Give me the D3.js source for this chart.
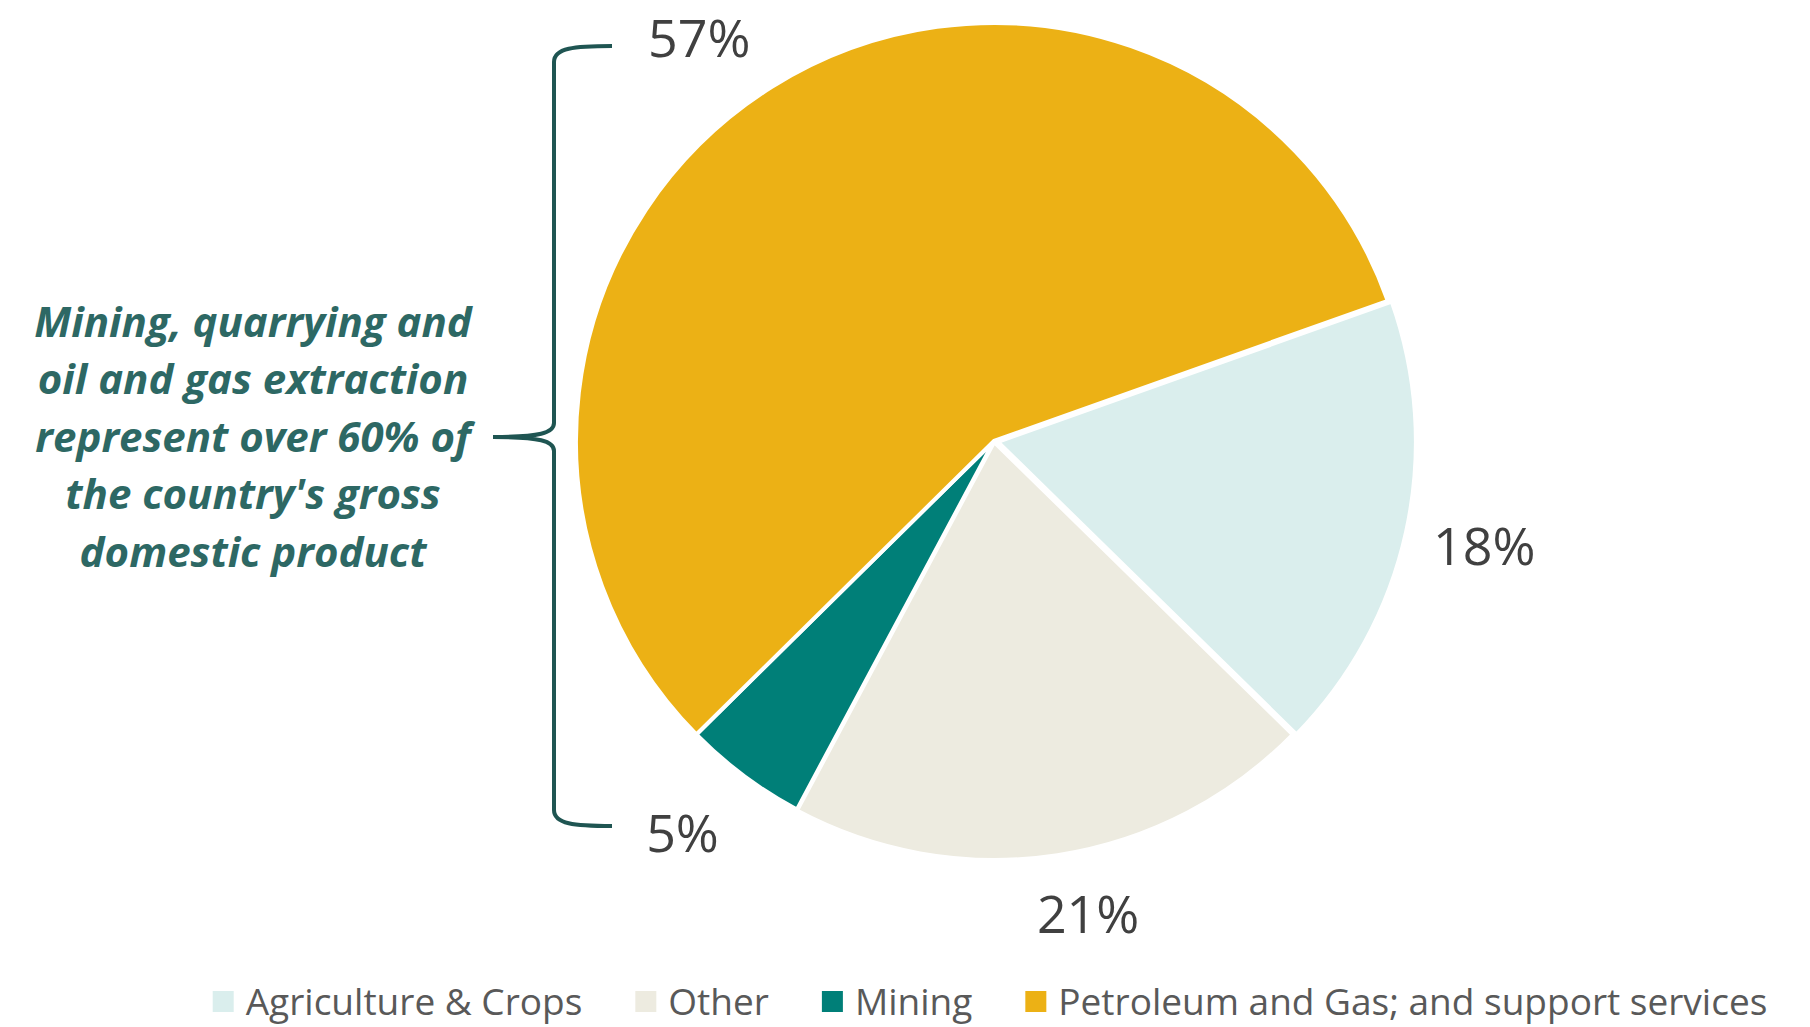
<!DOCTYPE html>
<html>
<head>
<meta charset="utf-8">
<script src="https://cdn.jsdelivr.net/npm/d3@7"></script>
<style>
  body { margin: 0; background: #fff; }
  text { font-family: "Open Sans", sans-serif; }
</style>
</head>
<body>
<div id="container"></div>
<script>
let categories = ['Agriculture & Crops', 'Other', 'Mining', 'Petroleum and Gas; and support services'];
let values = [17.8, 20.5, 4.8, 57.0];
let labels = ['18%', '21%', '5%', '57%'];
let noteLines = ['Mining, quarrying and', 'oil and gas extraction', 'represent over 60% of', "the country's gross", 'domestic product'];

let colors = ['#daeeed', '#edebe0', '#007f78', '#ecb115'];
let width = 1810;
let height = 1027;
let cx = 994, cy = 441;
let radius = 418;
let labelRadius = 502;
let startDeg = 70.4;

let svg = d3.select('#container').append('svg')
    .attr('width', width).attr('height', height);

let color = d3.scaleOrdinal().domain(categories).range(colors);

let pie = d3.pie().sort(null).value(d => d)
    .startAngle(startDeg * Math.PI / 180)
    .endAngle(startDeg * Math.PI / 180 + 2 * Math.PI);
let arcs = pie(values);

let arc = d3.arc().innerRadius(0).outerRadius(radius);
let labelArc = d3.arc().innerRadius(labelRadius).outerRadius(labelRadius);

let chart = svg.append('g').attr('transform', 'translate(' + cx + ',' + cy + ')');

// small offset for the agriculture slice, like the original
let explode = [4, 1, 0, 0];
// labels that were dragged by hand in the original
let labelNudge = [[0, -4], [18, -25], [-11, -12], [-28, 21]];

chart.selectAll('.slice')
    .data(arcs).enter()
    .append('path').attr('class', 'slice')
    .attr('d', arc)
    .attr('transform', (d, i) => {
        let a = (d.startAngle + d.endAngle) / 2;
        return 'translate(' + (Math.sin(a) * explode[i]) + ',' + (-Math.cos(a) * explode[i]) + ')';
    })
    .attr('fill', (d, i) => color(categories[i]))
    .attr('stroke', '#fff')
    .attr('stroke-width', 4)
    .attr('stroke-linejoin', 'round');

chart.selectAll('.pct')
    .data(arcs).enter()
    .append('text').attr('class', 'pct')
    .attr('x', (d, i) => labelArc.centroid(d)[0] + labelNudge[i][0])
    .attr('y', (d, i) => labelArc.centroid(d)[1] + labelNudge[i][1])
    .attr('text-anchor', 'middle')
    .attr('dominant-baseline', 'central')
    .attr('font-size', 52)
    .attr('fill', '#404040')
    .text((d, i) => labels[i]);

// curly brace
let bx = 554, braceTop = 46, braceBottom = 826, tipX = 493, tipY = 437, armX = 612;
let brace = 'M' + armX + ',' + braceTop +
    ' C' + (bx + 20) + ',' + braceTop + ' ' + bx + ',' + (braceTop + 2) + ' ' + bx + ',' + (braceTop + 16) +
    ' L' + bx + ',' + (tipY - 14) +
    ' C' + bx + ',' + (tipY - 4) + ' ' + (bx - 14) + ',' + tipY + ' ' + tipX + ',' + tipY +
    ' C' + (bx - 14) + ',' + tipY + ' ' + bx + ',' + (tipY + 4) + ' ' + bx + ',' + (tipY + 14) +
    ' L' + bx + ',' + (braceBottom - 16) +
    ' C' + bx + ',' + (braceBottom - 2) + ' ' + (bx + 20) + ',' + braceBottom + ' ' + armX + ',' + braceBottom;
svg.append('path').attr('d', brace)
    .attr('fill', 'none').attr('stroke', '#1f5552').attr('stroke-width', 4);

let note = svg.append('text')
    .attr('text-anchor', 'middle')
    .attr('font-size', 42)
    .attr('font-weight', 'bold')
    .attr('font-style', 'italic')
    .attr('fill', '#2d6864');
noteLines.forEach((t, i) => {
    note.append('tspan').attr('x', 253).attr('y', 320 + i * 57.6)
        .attr('dominant-baseline', 'central').text(t);
});

// legend
let legend = svg.append('g');
let lx = 0;
let gap = 53;
let items = legend.selectAll('.item').data(categories).enter()
    .append('g').attr('class', 'item');
items.each(function (d, i) {
    let g = d3.select(this);
    g.append('rect').attr('width', 21).attr('height', 21).attr('y', -10)
        .attr('fill', color(d));
    let t = g.append('text').attr('x', 33).attr('y', -1)
        .attr('dominant-baseline', 'central')
        .attr('font-size', 37).attr('fill', '#595959').text(d);
    g.attr('transform', 'translate(' + lx + ',0)');
    lx += 33 + t.node().getComputedTextLength() + gap;
});
lx -= gap;
legend.attr('transform', 'translate(' + (990 - lx / 2) + ',1001)');
</script>
</body>
</html>
